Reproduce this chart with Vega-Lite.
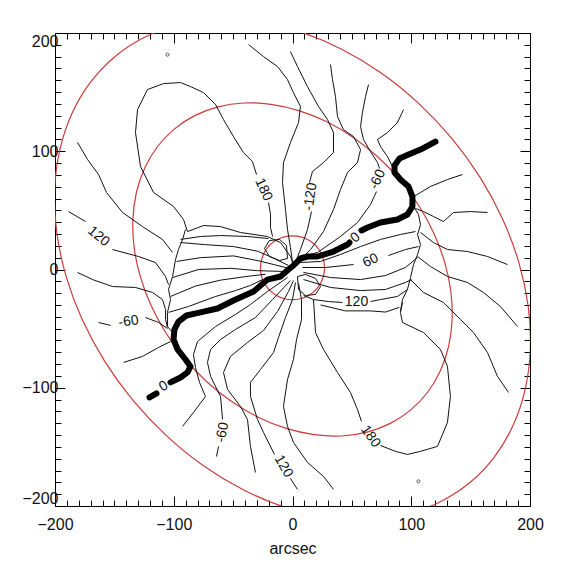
{
  "$schema": "https://vega.github.io/schema/vega-lite/v6.json",
  "width": 475,
  "height": 473,
  "autosize": {"type": "none"},
  "padding": {"left": 55, "top": 33, "right": 44, "bottom": 64},
  "background": "white",
  "config": {
    "view": {"stroke": "#000", "strokeWidth": 1},
    "axis": {"domain": false, "grid": false, "tickColor": "#000", "tickWidth": 1, "labelFont": "Liberation Sans", "labelFontSize": 16, "labelColor": "#111", "titleFont": "Liberation Sans", "titleFontSize": 16, "titleFontWeight": "normal", "titleColor": "#111"}
  },
  "datasets": {
    "ell": [
      {"g": "outer", "x": -148.9, "y": 180.6}, {"g": "outer", "x": -169.9, "y": 158.6}, {"g": "outer", "x": -185.8, "y": 131.8}, {"g": "outer", "x": -196.0, "y": 101.0}, {"g": "outer", "x": -200.3, "y": 67.2}, {"g": "outer", "x": -198.5, "y": 31.3}, {"g": "outer", "x": -190.7, "y": -5.6}, {"g": "outer", "x": -177.1, "y": -42.3}, {"g": "outer", "x": -158.1, "y": -77.7}, {"g": "outer", "x": -134.3, "y": -110.7}, {"g": "outer", "x": -106.4, "y": -140.3}, {"g": "outer", "x": -75.3, "y": -165.8}, {"g": "outer", "x": -41.8, "y": -186.1}, {"g": "outer", "x": -7.2, "y": -200.8}, {"g": "outer", "x": 27.7, "y": -209.5}, {"g": "outer", "x": 61.8, "y": -211.7}, {"g": "outer", "x": 94.0, "y": -207.5}, {"g": "outer", "x": 123.3, "y": -197.0}, {"g": "outer", "x": 148.9, "y": -180.6}, {"g": "outer", "x": 169.9, "y": -158.6}, {"g": "outer", "x": 185.8, "y": -131.8}, {"g": "outer", "x": 196.0, "y": -101.0}, {"g": "outer", "x": 200.3, "y": -67.2}, {"g": "outer", "x": 198.5, "y": -31.3}, {"g": "outer", "x": 190.7, "y": 5.6}, {"g": "outer", "x": 177.1, "y": 42.3}, {"g": "outer", "x": 158.1, "y": 77.7}, {"g": "outer", "x": 134.3, "y": 110.7}, {"g": "outer", "x": 106.4, "y": 140.3}, {"g": "outer", "x": 75.3, "y": 165.8}, {"g": "outer", "x": 41.8, "y": 186.1}, {"g": "outer", "x": 7.2, "y": 200.8}, {"g": "outer", "x": -27.7, "y": 209.5}, {"g": "outer", "x": -61.8, "y": 211.7}, {"g": "outer", "x": -94.0, "y": 207.5}, {"g": "outer", "x": -123.3, "y": 197.0},
      {"g": "inner", "x": -99.6, "y": 118.7}, {"g": "inner", "x": -113.8, "y": 103.8}, {"g": "inner", "x": -124.5, "y": 85.6}, {"g": "inner", "x": -131.5, "y": 64.9}, {"g": "inner", "x": -134.4, "y": 42.2}, {"g": "inner", "x": -133.3, "y": 18.2}, {"g": "inner", "x": -128.1, "y": -6.3}, {"g": "inner", "x": -119.0, "y": -30.7}, {"g": "inner", "x": -106.3, "y": -54.1}, {"g": "inner", "x": -90.4, "y": -75.9}, {"g": "inner", "x": -71.7, "y": -95.3}, {"g": "inner", "x": -50.9, "y": -111.9}, {"g": "inner", "x": -28.5, "y": -125.1}, {"g": "inner", "x": -5.2, "y": -134.4}, {"g": "inner", "x": 18.2, "y": -139.7}, {"g": "inner", "x": 41.1, "y": -140.8}, {"g": "inner", "x": 62.7, "y": -137.5}, {"g": "inner", "x": 82.4, "y": -130.1}, {"g": "inner", "x": 99.6, "y": -118.7}, {"g": "inner", "x": 113.8, "y": -103.8}, {"g": "inner", "x": 124.5, "y": -85.6}, {"g": "inner", "x": 131.5, "y": -64.9}, {"g": "inner", "x": 134.4, "y": -42.2}, {"g": "inner", "x": 133.3, "y": -18.2}, {"g": "inner", "x": 128.1, "y": 6.3}, {"g": "inner", "x": 119.0, "y": 30.7}, {"g": "inner", "x": 106.3, "y": 54.1}, {"g": "inner", "x": 90.4, "y": 75.9}, {"g": "inner", "x": 71.7, "y": 95.3}, {"g": "inner", "x": 50.9, "y": 111.9}, {"g": "inner", "x": 28.5, "y": 125.1}, {"g": "inner", "x": 5.2, "y": 134.4}, {"g": "inner", "x": -18.2, "y": 139.7}, {"g": "inner", "x": -41.1, "y": 140.8}, {"g": "inner", "x": -62.7, "y": 137.5}, {"g": "inner", "x": -82.4, "y": 130.1},
      {"g": "small", "x": 27.0, "y": 1.5}, {"g": "small", "x": 23.4, "y": 15.0}, {"g": "small", "x": 13.5, "y": 24.9}, {"g": "small", "x": 0.0, "y": 28.5}, {"g": "small", "x": -13.5, "y": 24.9}, {"g": "small", "x": -23.4, "y": 15.0}, {"g": "small", "x": -27.0, "y": 1.5}, {"g": "small", "x": -23.4, "y": -12.0}, {"g": "small", "x": -13.5, "y": -21.9}, {"g": "small", "x": 0.0, "y": -25.5}, {"g": "small", "x": 13.5, "y": -21.9}, {"g": "small", "x": 23.4, "y": -12.0}
    ],
    "thin": [
      {"g": "N1", "x": 93.5, "y": 135.2}, {"g": "N1", "x": 88.4, "y": 124.3}, {"g": "N1", "x": 80.0, "y": 115.8}, {"g": "N1", "x": 71.6, "y": 109.9}, {"g": "N1", "x": 74.1, "y": 104.0}, {"g": "N1", "x": 80.0, "y": 95.5}, {"g": "N1", "x": 84.2, "y": 87.0}, {"g": "N1", "x": 85.0, "y": 82.0},
      {"g": "N2a", "x": 64.0, "y": 156.4}, {"g": "N2a", "x": 61.5, "y": 146.2}, {"g": "N2a", "x": 58.9, "y": 132.7}, {"g": "N2a", "x": 57.3, "y": 120.9}, {"g": "N2a", "x": 59.8, "y": 109.9}, {"g": "N2a", "x": 65.7, "y": 99.7}, {"g": "N2a", "x": 71.6, "y": 90.4}, {"g": "N2a", "x": 73.3, "y": 85.4},
      {"g": "N2b", "x": 70.7, "y": 65.9}, {"g": "N2b", "x": 65.7, "y": 54.9}, {"g": "N2b", "x": 54.7, "y": 39.7}, {"g": "N2b", "x": 40.4, "y": 27.9}, {"g": "N2b", "x": 21.1, "y": 14.4}, {"g": "N2b", "x": 10.0, "y": 11.5}, {"g": "N2b", "x": 3.0, "y": 6.0},
      {"g": "N3", "x": 32.0, "y": 173.3}, {"g": "N3", "x": 33.7, "y": 160.6}, {"g": "N3", "x": 36.2, "y": 146.2}, {"g": "N3", "x": 37.9, "y": 129.3}, {"g": "N3", "x": 42.9, "y": 118.3}, {"g": "N3", "x": 51.4, "y": 112.4}, {"g": "N3", "x": 57.3, "y": 101.4}, {"g": "N3", "x": 54.7, "y": 90.4}, {"g": "N3", "x": 46.3, "y": 82.0}, {"g": "N3", "x": 40.4, "y": 67.6}, {"g": "N3", "x": 34.5, "y": 50.7}, {"g": "N3", "x": 26.1, "y": 32.1}, {"g": "N3", "x": 15.2, "y": 16.9}, {"g": "N3", "x": 4.2, "y": 5.9},
      {"g": "N4a", "x": -1.7, "y": 184.3}, {"g": "N4a", "x": 4.2, "y": 171.6}, {"g": "N4a", "x": 12.6, "y": 154.7}, {"g": "N4a", "x": 21.9, "y": 137.8}, {"g": "N4a", "x": 29.5, "y": 126.8}, {"g": "N4a", "x": 34.5, "y": 115.8}, {"g": "N4a", "x": 34.5, "y": 98.9}, {"g": "N4a", "x": 26.1, "y": 90.4}, {"g": "N4a", "x": 16.8, "y": 82.8}, {"g": "N4a", "x": 14.3, "y": 73.5},
      {"g": "N4b", "x": 16.0, "y": 49.0}, {"g": "N4b", "x": 12.6, "y": 33.8}, {"g": "N4b", "x": 6.7, "y": 16.9}, {"g": "N4b", "x": 1.7, "y": 4.2},
      {"g": "N5", "x": -37.0, "y": 190.2}, {"g": "N5", "x": -24.4, "y": 180.0}, {"g": "N5", "x": -12.6, "y": 171.6}, {"g": "N5", "x": -4.2, "y": 160.6}, {"g": "N5", "x": 0.8, "y": 149.6}, {"g": "N5", "x": 6.7, "y": 137.8}, {"g": "N5", "x": 5.1, "y": 124.3}, {"g": "N5", "x": -1.7, "y": 107.4}, {"g": "N5", "x": -7.6, "y": 90.4}, {"g": "N5", "x": -8.4, "y": 73.5}, {"g": "N5", "x": -5.9, "y": 50.7}, {"g": "N5", "x": -4.2, "y": 33.8}, {"g": "N5", "x": -1.7, "y": 18.6}, {"g": "N5", "x": 0.0, "y": 5.9},
      {"g": "A1", "x": -88.4, "y": 32.1}, {"g": "A1", "x": -91.8, "y": 42.3}, {"g": "A1", "x": -100.2, "y": 53.3}, {"g": "A1", "x": -117.0, "y": 65.1}, {"g": "A1", "x": -128.0, "y": 87.1}, {"g": "A1", "x": -132.2, "y": 115.8}, {"g": "A1", "x": -130.5, "y": 135.2}, {"g": "A1", "x": -122.1, "y": 152.2}, {"g": "A1", "x": -108.6, "y": 157.2}, {"g": "A1", "x": -94.3, "y": 158.1}, {"g": "A1", "x": -85.9, "y": 154.7}, {"g": "A1", "x": -74.9, "y": 149.6}, {"g": "A1", "x": -64.8, "y": 139.5}, {"g": "A1", "x": -58.1, "y": 126.8}, {"g": "A1", "x": -49.7, "y": 112.4}, {"g": "A1", "x": -41.3, "y": 98.9}, {"g": "A1", "x": -33.7, "y": 91.3}, {"g": "A1", "x": -30.3, "y": 80.3},
      {"g": "A2", "x": -20.2, "y": 56.6}, {"g": "A2", "x": -18.5, "y": 46.5}, {"g": "A2", "x": -18.5, "y": 35.5}, {"g": "A2", "x": -16.8, "y": 27.9},
      {"g": "B1", "x": -88.4, "y": 32.1}, {"g": "B1", "x": -74.9, "y": 37.2}, {"g": "B1", "x": -60.6, "y": 36.3}, {"g": "B1", "x": -43.8, "y": 31.3}, {"g": "B1", "x": -21.1, "y": 27.9}, {"g": "B1", "x": -10.1, "y": 22.8}, {"g": "B1", "x": -1.7, "y": 11.0}, {"g": "B1", "x": 0.8, "y": 4.2},
      {"g": "B2", "x": -94.3, "y": 25.4}, {"g": "B2", "x": -77.5, "y": 27.9}, {"g": "B2", "x": -60.6, "y": 28.7}, {"g": "B2", "x": -37.9, "y": 27.9}, {"g": "B2", "x": -20.2, "y": 26.2},
      {"g": "SL", "x": -90.1, "y": 33.8}, {"g": "SL", "x": -92.6, "y": 25.4}, {"g": "SL", "x": -96.0, "y": 16.9}, {"g": "SL", "x": -98.5, "y": 8.5}, {"g": "SL", "x": -101.0, "y": -5.9}, {"g": "SL", "x": -104.4, "y": -16.9}, {"g": "SL", "x": -102.7, "y": -25.4}, {"g": "SL", "x": -105.3, "y": -36.3}, {"g": "SL", "x": -105.3, "y": -48.2}, {"g": "SL", "x": -101.0, "y": -53.3},
      {"g": "S2", "x": -94.3, "y": 22.8}, {"g": "S2", "x": -73.3, "y": 21.0}, {"g": "S2", "x": -49.7, "y": 19.4}, {"g": "S2", "x": -29.5, "y": 15.5}, {"g": "S2", "x": -16.8, "y": 10.0}, {"g": "S2", "x": -3.4, "y": 3.4},
      {"g": "S3", "x": -97.7, "y": 6.8}, {"g": "S3", "x": -77.5, "y": 10.0}, {"g": "S3", "x": -49.7, "y": 11.5}, {"g": "S3", "x": -26.9, "y": 7.0}, {"g": "S3", "x": -5.1, "y": 1.5},
      {"g": "S4", "x": -101.0, "y": -6.8}, {"g": "S4", "x": -79.1, "y": 0.0}, {"g": "S4", "x": -52.2, "y": 1.0}, {"g": "S4", "x": -29.5, "y": -1.0}, {"g": "S4", "x": -5.9, "y": -1.7},
      {"g": "S5", "x": -102.7, "y": -22.8}, {"g": "S5", "x": -81.7, "y": -14.0}, {"g": "S5", "x": -60.6, "y": -9.0}, {"g": "S5", "x": -39.6, "y": -6.0}, {"g": "S5", "x": -22.7, "y": -4.0},
      {"g": "S6", "x": -104.4, "y": -36.3}, {"g": "S6", "x": -87.6, "y": -31.3}, {"g": "S6", "x": -64.8, "y": -22.8}, {"g": "S6", "x": -48.0, "y": -17.8}, {"g": "S6", "x": -35.4, "y": -13.5}, {"g": "S6", "x": -25.3, "y": -8.5},
      {"g": "La", "x": -181.0, "y": 107.4}, {"g": "La", "x": -172.6, "y": 93.0}, {"g": "La", "x": -163.3, "y": 80.3}, {"g": "La", "x": -156.6, "y": 65.1}, {"g": "La", "x": -143.1, "y": 48.2}, {"g": "La", "x": -126.3, "y": 36.3}, {"g": "La", "x": -109.5, "y": 25.4}, {"g": "La", "x": -101.0, "y": 14.4},
      {"g": "L120a", "x": -188.6, "y": 49.0}, {"g": "L120a", "x": -174.3, "y": 40.6},
      {"g": "L120b", "x": -151.6, "y": 16.9}, {"g": "L120b", "x": -129.7, "y": 11.0}, {"g": "L120b", "x": -115.4, "y": 5.9}, {"g": "L120b", "x": -106.9, "y": -5.9}, {"g": "L120b", "x": -104.4, "y": -12.7},
      {"g": "Lb", "x": -181.0, "y": -2.5}, {"g": "Lb", "x": -168.4, "y": -8.5}, {"g": "Lb", "x": -151.6, "y": -14.4}, {"g": "Lb", "x": -132.2, "y": -15.2}, {"g": "Lb", "x": -117.9, "y": -19.4}, {"g": "Lb", "x": -109.5, "y": -25.4}, {"g": "Lb", "x": -106.9, "y": -33.8}, {"g": "Lb", "x": -106.9, "y": -42.3}, {"g": "Lb", "x": -105.3, "y": -49.0},
      {"g": "L60a", "x": -163.3, "y": -44.8}, {"g": "L60a", "x": -153.2, "y": -47.3},
      {"g": "L60b", "x": -123.8, "y": -40.6}, {"g": "L60b", "x": -112.8, "y": -44.8}, {"g": "L60b", "x": -105.3, "y": -49.9},
      {"g": "Lc", "x": -142.3, "y": -78.6}, {"g": "Lc", "x": -126.3, "y": -73.5}, {"g": "Lc", "x": -112.8, "y": -65.9}, {"g": "Lc", "x": -102.7, "y": -60.9},
      {"g": "Ld", "x": -92.6, "y": -132.7}, {"g": "Ld", "x": -83.4, "y": -120.9}, {"g": "Ld", "x": -73.3, "y": -107.4}, {"g": "Ld", "x": -78.3, "y": -95.5}, {"g": "Ld", "x": -81.7, "y": -82.8}, {"g": "Ld", "x": -83.4, "y": -71.9}, {"g": "Ld", "x": -80.0, "y": -60.9}, {"g": "Ld", "x": -64.8, "y": -48.2}, {"g": "Ld", "x": -48.0, "y": -38.0}, {"g": "Ld", "x": -35.4, "y": -29.6}, {"g": "Ld", "x": -21.1, "y": -18.6}, {"g": "Ld", "x": -4.2, "y": -6.8},
      {"g": "M60a", "x": -64.0, "y": -158.1}, {"g": "M60a", "x": -62.3, "y": -149.6},
      {"g": "M60b", "x": -58.9, "y": -126.8}, {"g": "M60b", "x": -60.6, "y": -107.4}, {"g": "M60b", "x": -69.0, "y": -90.4}, {"g": "M60b", "x": -71.6, "y": -78.6}, {"g": "M60b", "x": -69.0, "y": -67.6}, {"g": "M60b", "x": -60.6, "y": -59.2}, {"g": "M60b", "x": -48.0, "y": -50.7}, {"g": "M60b", "x": -31.2, "y": -40.6}, {"g": "M60b", "x": -16.8, "y": -25.4}, {"g": "M60b", "x": -1.7, "y": -9.3},
      {"g": "Le", "x": -31.2, "y": -171.6}, {"g": "Le", "x": -35.4, "y": -149.6}, {"g": "Le", "x": -37.9, "y": -126.8}, {"g": "Le", "x": -43.8, "y": -115.8}, {"g": "Le", "x": -54.7, "y": -101.4}, {"g": "Le", "x": -58.1, "y": -87.1}, {"g": "Le", "x": -52.2, "y": -73.5}, {"g": "Le", "x": -37.9, "y": -61.7}, {"g": "Le", "x": -24.4, "y": -51.6}, {"g": "Le", "x": -12.6, "y": -35.5}, {"g": "Le", "x": -3.4, "y": -18.6}, {"g": "Le", "x": 0.8, "y": -9.3},
      {"g": "P120a", "x": -1.7, "y": -176.7}, {"g": "P120a", "x": 4.2, "y": -186.0},
      {"g": "P120b", "x": -15.2, "y": -156.4}, {"g": "P120b", "x": -24.4, "y": -137.8}, {"g": "P120b", "x": -29.5, "y": -126.8}, {"g": "P120b", "x": -35.4, "y": -107.4}, {"g": "P120b", "x": -35.4, "y": -95.5}, {"g": "P120b", "x": -26.9, "y": -84.5}, {"g": "P120b", "x": -16.0, "y": -70.2}, {"g": "P120b", "x": -11.8, "y": -57.5}, {"g": "P120b", "x": -5.9, "y": -40.6}, {"g": "P120b", "x": 0.0, "y": -25.4}, {"g": "P120b", "x": 2.5, "y": -11.0},
      {"g": "Lf", "x": 34.5, "y": -185.9}, {"g": "Lf", "x": 26.1, "y": -175.0}, {"g": "Lf", "x": 12.6, "y": -163.1}, {"g": "Lf", "x": 0.8, "y": -146.2}, {"g": "Lf", "x": -4.2, "y": -132.7}, {"g": "Lf", "x": -7.6, "y": -115.8}, {"g": "Lf", "x": -4.2, "y": -93.0}, {"g": "Lf", "x": 0.8, "y": -76.1}, {"g": "Lf", "x": 3.4, "y": -59.2}, {"g": "Lf", "x": 7.6, "y": -42.3}, {"g": "Lf", "x": 7.6, "y": -25.4}, {"g": "Lf", "x": 5.1, "y": -11.8},
      {"g": "C1", "x": 17.7, "y": -25.4}, {"g": "C1", "x": 19.4, "y": -53.3}, {"g": "C1", "x": 26.1, "y": -67.6}, {"g": "C1", "x": 37.9, "y": -87.1}, {"g": "C1", "x": 48.8, "y": -104.0}, {"g": "C1", "x": 54.7, "y": -118.3}, {"g": "C1", "x": 58.1, "y": -128.5},
      {"g": "C2", "x": 74.1, "y": -148.8}, {"g": "C2", "x": 86.7, "y": -153.8}, {"g": "C2", "x": 96.8, "y": -156.4}, {"g": "C2", "x": 107.8, "y": -153.8}, {"g": "C2", "x": 122.1, "y": -149.6}, {"g": "C2", "x": 130.5, "y": -129.3}, {"g": "C2", "x": 133.0, "y": -107.4}, {"g": "C2", "x": 130.5, "y": -82.0}, {"g": "C2", "x": 124.6, "y": -67.6}, {"g": "C2", "x": 110.3, "y": -53.3}, {"g": "C2", "x": 92.6, "y": -44.8}, {"g": "C2", "x": 90.9, "y": -36.3}, {"g": "C2", "x": 92.6, "y": -27.9},
      {"g": "Br1a", "x": 9.3, "y": -22.0}, {"g": "Br1a", "x": 17.7, "y": -25.4}, {"g": "Br1a", "x": 30.3, "y": -27.1}, {"g": "Br1a", "x": 42.1, "y": -27.9},
      {"g": "Br1b", "x": 65.7, "y": -27.1}, {"g": "Br1b", "x": 74.1, "y": -25.4}, {"g": "Br1b", "x": 88.4, "y": -22.8}, {"g": "Br1b", "x": 96.8, "y": -16.9},
      {"g": "Br2", "x": 23.6, "y": -30.0}, {"g": "Br2", "x": 44.6, "y": -35.0}, {"g": "Br2", "x": 65.7, "y": -35.0}, {"g": "Br2", "x": 78.3, "y": -36.0}, {"g": "Br2", "x": 90.0, "y": -32.0},
      {"g": "Q1", "x": 6.7, "y": 5.9}, {"g": "Q1", "x": 23.6, "y": 6.8}, {"g": "Q1", "x": 40.4, "y": 12.7}, {"g": "Q1", "x": 57.3, "y": 19.4}, {"g": "Q1", "x": 74.1, "y": 25.4}, {"g": "Q1", "x": 90.9, "y": 29.6}, {"g": "Q1", "x": 103.6, "y": 32.1},
      {"g": "Q2a", "x": 8.4, "y": 1.7}, {"g": "Q2a", "x": 27.8, "y": 1.7}, {"g": "Q2a", "x": 51.4, "y": 4.2},
      {"g": "Q2b", "x": 80.8, "y": 11.8}, {"g": "Q2b", "x": 95.1, "y": 16.9}, {"g": "Q2b", "x": 106.1, "y": 19.4},
      {"g": "Q3", "x": 9.3, "y": -2.5}, {"g": "Q3", "x": 32.0, "y": -6.8}, {"g": "Q3", "x": 57.3, "y": -8.5}, {"g": "Q3", "x": 78.3, "y": -5.1}, {"g": "Q3", "x": 95.1, "y": 1.7}, {"g": "Q3", "x": 105.3, "y": 10.1},
      {"g": "Q4", "x": 9.3, "y": -8.5}, {"g": "Q4", "x": 32.0, "y": -15.2}, {"g": "Q4", "x": 57.3, "y": -17.8}, {"g": "Q4", "x": 78.3, "y": -16.9}, {"g": "Q4", "x": 95.1, "y": -11.0}, {"g": "Q4", "x": 100.2, "y": -8.5},
      {"g": "SR", "x": 101.9, "y": 53.3}, {"g": "SR", "x": 106.1, "y": 46.5}, {"g": "SR", "x": 107.8, "y": 38.0}, {"g": "SR", "x": 105.3, "y": 29.6}, {"g": "SR", "x": 107.8, "y": 21.1}, {"g": "SR", "x": 105.3, "y": 12.7}, {"g": "SR", "x": 101.9, "y": 4.2}, {"g": "SR", "x": 99.4, "y": -6.8}, {"g": "SR", "x": 96.8, "y": -16.9}, {"g": "SR", "x": 92.6, "y": -25.4}, {"g": "SR", "x": 90.9, "y": -35.5},
      {"g": "R1", "x": 143.1, "y": 80.3}, {"g": "R1", "x": 130.5, "y": 76.1}, {"g": "R1", "x": 116.2, "y": 70.2}, {"g": "R1", "x": 107.8, "y": 65.1}, {"g": "R1", "x": 101.9, "y": 61.7},
      {"g": "R2", "x": 164.2, "y": 48.2}, {"g": "R2", "x": 149.9, "y": 49.0}, {"g": "R2", "x": 135.6, "y": 48.2}, {"g": "R2", "x": 127.1, "y": 40.6}, {"g": "R2", "x": 118.7, "y": 44.8}, {"g": "R2", "x": 110.3, "y": 49.0}, {"g": "R2", "x": 103.6, "y": 51.6},
      {"g": "R3", "x": 107.8, "y": 31.3}, {"g": "R3", "x": 118.7, "y": 22.8}, {"g": "R3", "x": 130.5, "y": 16.9}, {"g": "R3", "x": 147.4, "y": 15.2}, {"g": "R3", "x": 164.2, "y": 11.0}, {"g": "R3", "x": 181.0, "y": 4.2},
      {"g": "R4", "x": 105.3, "y": 11.0}, {"g": "R4", "x": 116.2, "y": 2.5}, {"g": "R4", "x": 130.5, "y": -5.9}, {"g": "R4", "x": 147.4, "y": -11.0}, {"g": "R4", "x": 160.8, "y": -19.4}, {"g": "R4", "x": 175.1, "y": -31.3}, {"g": "R4", "x": 189.5, "y": -48.2},
      {"g": "R5", "x": 99.4, "y": -8.5}, {"g": "R5", "x": 110.3, "y": -19.4}, {"g": "R5", "x": 127.1, "y": -27.9}, {"g": "R5", "x": 141.5, "y": -42.3}, {"g": "R5", "x": 152.4, "y": -53.3}, {"g": "R5", "x": 164.2, "y": -70.2}, {"g": "R5", "x": 172.6, "y": -90.4}, {"g": "R5", "x": 181.9, "y": -104.0},
      {"g": "LpA", "x": 4.2, "y": -5.9}, {"g": "LpA", "x": 5.1, "y": -16.9}, {"g": "LpA", "x": 10.9, "y": -22.0}, {"g": "LpA", "x": 19.4, "y": -21.1}, {"g": "LpA", "x": 23.6, "y": -14.4}, {"g": "LpA", "x": 19.4, "y": -7.6}, {"g": "LpA", "x": 10.9, "y": -4.2}, {"g": "LpA", "x": 4.2, "y": -5.9},
      {"g": "LpB", "x": -4.2, "y": 9.3}, {"g": "LpB", "x": -5.1, "y": 20.3}, {"g": "LpB", "x": -10.9, "y": 25.4}, {"g": "LpB", "x": -19.4, "y": 24.5}, {"g": "LpB", "x": -23.6, "y": 17.8}, {"g": "LpB", "x": -19.4, "y": 11.0}, {"g": "LpB", "x": -10.9, "y": 7.6}, {"g": "LpB", "x": -4.2, "y": 9.3}
    ],
    "zero": [
      {"g": "Z1", "x": -120.4, "y": -108.2}, {"g": "Z1", "x": -114.5, "y": -104.8},
      {"g": "Z2", "x": -102.7, "y": -95.5}, {"g": "Z2", "x": -94.3, "y": -91.3}, {"g": "Z2", "x": -88.4, "y": -87.0}, {"g": "Z2", "x": -85.9, "y": -82.0}, {"g": "Z2", "x": -90.1, "y": -76.1}, {"g": "Z2", "x": -96.8, "y": -67.6}, {"g": "Z2", "x": -100.2, "y": -59.2}, {"g": "Z2", "x": -99.4, "y": -50.7}, {"g": "Z2", "x": -96.0, "y": -44.0}, {"g": "Z2", "x": -89.3, "y": -38.9}, {"g": "Z2", "x": -77.5, "y": -36.3}, {"g": "Z2", "x": -63.2, "y": -33.0}, {"g": "Z2", "x": -49.7, "y": -26.2}, {"g": "Z2", "x": -32.8, "y": -18.6}, {"g": "Z2", "x": -21.1, "y": -8.5}, {"g": "Z2", "x": -10.1, "y": -5.9}, {"g": "Z2", "x": -3.4, "y": 0.0}, {"g": "Z2", "x": 0.8, "y": 3.4}, {"g": "Z2", "x": 6.7, "y": 9.3}, {"g": "Z2", "x": 12.6, "y": 11.0}, {"g": "Z2", "x": 21.1, "y": 11.0}, {"g": "Z2", "x": 34.5, "y": 15.2}, {"g": "Z2", "x": 46.3, "y": 21.1}, {"g": "Z2", "x": 48.0, "y": 22.8},
      {"g": "Z3", "x": 58.1, "y": 33.0}, {"g": "Z3", "x": 63.2, "y": 35.5}, {"g": "Z3", "x": 74.1, "y": 39.7}, {"g": "Z3", "x": 88.4, "y": 42.3}, {"g": "Z3", "x": 96.8, "y": 46.5}, {"g": "Z3", "x": 101.0, "y": 53.3}, {"g": "Z3", "x": 101.0, "y": 61.7}, {"g": "Z3", "x": 97.7, "y": 70.2}, {"g": "Z3", "x": 90.9, "y": 76.1}, {"g": "Z3", "x": 85.9, "y": 82.0}, {"g": "Z3", "x": 85.9, "y": 87.9}, {"g": "Z3", "x": 90.1, "y": 93.8}, {"g": "Z3", "x": 97.7, "y": 97.2}, {"g": "Z3", "x": 107.8, "y": 101.4}, {"g": "Z3", "x": 120.4, "y": 108.2}
    ],
    "labels": [
      {"t": "180", "x": -24.4, "y": 67.6, "a": 65},
      {"t": "-120", "x": 15.2, "y": 61.7, "a": -82},
      {"t": "-60", "x": 71.6, "y": 76.1, "a": -65},
      {"t": "0", "x": 53.0, "y": 27.0, "a": -40},
      {"t": "60", "x": 65.7, "y": 7.6, "a": -25},
      {"t": "120", "x": -163.3, "y": 27.9, "a": 40},
      {"t": "-60", "x": -138.1, "y": -44.0, "a": -8},
      {"t": "0", "x": -108.6, "y": -98.9, "a": -30},
      {"t": "-60", "x": -58.9, "y": -137.8, "a": -80},
      {"t": "120", "x": -7.6, "y": -166.5, "a": 60},
      {"t": "180", "x": 65.7, "y": -141.2, "a": 55},
      {"t": "120", "x": 53.9, "y": -27.1, "a": 0}
    ],
    "dots": [
      {"x": -105.3, "y": 181.7},
      {"x": 106.1, "y": -179.2}
    ]
  },
  "resolve": {"axis": {"x": "independent", "y": "independent"}},
  "layer": [
    {
      "data": {"name": "ell"},
      "mark": {"type": "line", "interpolate": "cardinal-closed", "clip": true, "color": "#cc3b3b", "strokeWidth": 1.2},
      "encoding": {
        "x": {"field": "x", "type": "quantitative", "scale": {"domain": [-200, 200], "nice": false, "zero": false},
              "axis": {"orient": "bottom", "values": [-200, -100, 0, 100, 200], "tickSize": -10, "labelPadding": 20, "labelFlush": false, "title": "arcsec", "titlePadding": 8}},
        "y": {"field": "y", "type": "quantitative", "scale": {"domain": [-200, 200], "nice": false, "zero": false},
              "axis": {"orient": "left", "values": [-200, -100, 0, 100, 200], "tickSize": -10, "labelPadding": 7, "labelFlush": true, "title": null}},
        "detail": {"field": "g"},
        "order": {"value": null}
      }
    },
    {
      "data": {"name": "thin"},
      "mark": {"type": "line", "clip": true, "color": "#111", "strokeWidth": 1},
      "encoding": {
        "x": {"field": "x", "type": "quantitative", "scale": {"domain": [-200, 200], "nice": false, "zero": false},
              "axis": {"orient": "top", "values": [-200, -100, 0, 100, 200], "tickSize": -10, "labels": false, "title": null}},
        "y": {"field": "y", "type": "quantitative", "scale": {"domain": [-200, 200], "nice": false, "zero": false},
              "axis": {"orient": "right", "values": [-200, -100, 0, 100, 200], "tickSize": -10, "labels": false, "title": null}},
        "detail": {"field": "g"},
        "order": {"value": null}
      }
    },
    {
      "data": {"name": "zero"},
      "mark": {"type": "line", "clip": true, "color": "#000", "strokeWidth": 6, "strokeCap": "round", "strokeJoin": "round"},
      "encoding": {
        "x": {"field": "x", "type": "quantitative", "scale": {"domain": [-200, 200], "nice": false, "zero": false},
              "axis": {"orient": "bottom", "values": [-190, -180, -170, -160, -150, -140, -130, -120, -110, -90, -80, -70, -60, -50, -40, -30, -20, -10, 10, 20, 30, 40, 50, 60, 70, 80, 90, 110, 120, 130, 140, 150, 160, 170, 180, 190], "tickSize": -6, "labels": false, "title": null}},
        "y": {"field": "y", "type": "quantitative", "scale": {"domain": [-200, 200], "nice": false, "zero": false},
              "axis": {"orient": "left", "values": [-190, -180, -170, -160, -150, -140, -130, -120, -110, -90, -80, -70, -60, -50, -40, -30, -20, -10, 10, 20, 30, 40, 50, 60, 70, 80, 90, 110, 120, 130, 140, 150, 160, 170, 180, 190], "tickSize": -6, "labels": false, "title": null}},
        "detail": {"field": "g"},
        "order": {"value": null}
      }
    },
    {
      "data": {"name": "dots"},
      "mark": {"type": "point", "shape": "circle", "size": 10, "filled": false, "color": "#111", "strokeWidth": 1},
      "encoding": {
        "x": {"field": "x", "type": "quantitative", "scale": {"domain": [-200, 200], "nice": false, "zero": false},
              "axis": {"orient": "top", "values": [-190, -180, -170, -160, -150, -140, -130, -120, -110, -90, -80, -70, -60, -50, -40, -30, -20, -10, 10, 20, 30, 40, 50, 60, 70, 80, 90, 110, 120, 130, 140, 150, 160, 170, 180, 190], "tickSize": -6, "labels": false, "title": null}},
        "y": {"field": "y", "type": "quantitative", "scale": {"domain": [-200, 200], "nice": false, "zero": false},
              "axis": {"orient": "right", "values": [-190, -180, -170, -160, -150, -140, -130, -120, -110, -90, -80, -70, -60, -50, -40, -30, -20, -10, 10, 20, 30, 40, 50, 60, 70, 80, 90, 110, 120, 130, 140, 150, 160, 170, 180, 190], "tickSize": -6, "labels": false, "title": null}}
      }
    },
    {
      "data": {"name": "labels"},
      "mark": {"type": "text", "font": "Liberation Sans", "fontSize": 14, "color": "#111", "align": "center", "baseline": "middle"},
      "encoding": {
        "x": {"field": "x", "type": "quantitative", "scale": {"domain": [-200, 200], "nice": false, "zero": false}, "axis": null},
        "y": {"field": "y", "type": "quantitative", "scale": {"domain": [-200, 200], "nice": false, "zero": false}, "axis": null},
        "text": {"field": "t"},
        "angle": {"field": "a", "type": "quantitative", "scale": null}
      }
    }
  ]
}
